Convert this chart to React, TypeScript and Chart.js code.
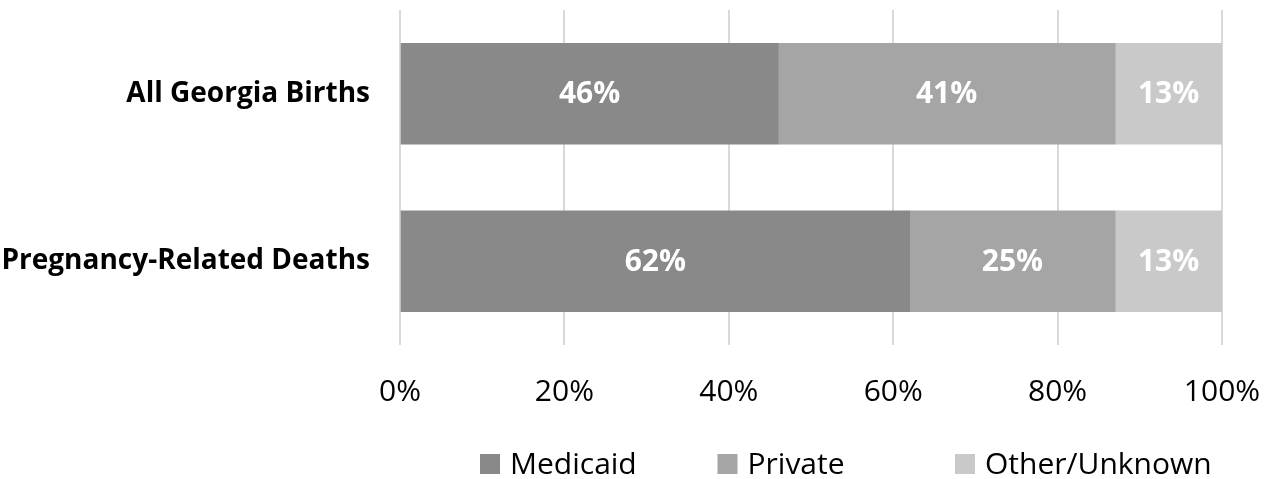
import React, { useEffect, useRef } from "react";
import { Chart, registerables } from "chart.js";

Chart.register(...registerables);

const categories = ["All Georgia Births", "Pregnancy-Related Deaths"];
const seriesNames = ["Medicaid", "Private", "Other/Unknown"];
const medicaid = [46, 62];
const privateIns = [41, 25];
const otherUnknown = [13, 13];
const seriesColors = ["#898989", "#a5a5a5", "#c9c9c9"];
const xTicks = [0, 20, 40, 60, 80, 100];

const FONT = "'Open Sans', 'Noto Sans', sans-serif";
const WIDTH = 1275;
const HEIGHT = 479;

// White percentage labels centred in each bar segment
const segmentLabels = {
  id: "segmentLabels",
  afterDatasetsDraw(chart: any) {
    const ctx = chart.ctx;
    ctx.save();
    ctx.fillStyle = "#ffffff";
    ctx.font = `bold 30px ${FONT}`;
    ctx.textAlign = "center";
    ctx.textBaseline = "middle";
    chart.data.datasets.forEach((ds: any, di: number) => {
      const meta = chart.getDatasetMeta(di);
      meta.data.forEach((el: any, i: number) => {
        const v = ds.data[i];
        const cx = (el.x + el.base) / 2;
        ctx.fillText(`${v}%`, cx, el.y + 1);
      });
    });
    ctx.restore();
  },
};

// Evenly spaced legend row beneath the axis
const spacedLegend = {
  id: "spacedLegend",
  afterDraw(chart: any) {
    const ctx = chart.ctx;
    const startX = 480;
    const step = 237.5;
    const cy = 464;
    const box = 20;
    ctx.save();
    ctx.font = `30px ${FONT}`;
    ctx.textBaseline = "middle";
    ctx.textAlign = "left";
    chart.data.datasets.forEach((ds: any, i: number) => {
      const x = startX + i * step;
      ctx.fillStyle = ds.backgroundColor;
      ctx.fillRect(x, cy - box / 2, box, box);
      ctx.fillStyle = "#000000";
      ctx.fillText(ds.label, x + box + 10, cy + 1);
    });
    ctx.restore();
  },
};

export default function App() {
  const canvasRef = useRef<HTMLCanvasElement | null>(null);

  useEffect(() => {
    document.body.style.margin = "0";
    if (!canvasRef.current) return;
    const values = [medicaid, privateIns, otherUnknown];
    const chart = new Chart(canvasRef.current, {
      type: "bar",
      data: {
        labels: categories,
        datasets: seriesNames.map((name, i) => ({
          label: name,
          data: values[i],
          backgroundColor: seriesColors[i],
          borderWidth: 0,
          barThickness: 101,
        })),
      },
      options: {
        indexAxis: "y",
        animation: false,
        responsive: false,
        maintainAspectRatio: false,
        layout: { padding: { top: 10, right: 53, left: 0, bottom: 0 } },
        plugins: {
          legend: { display: false },
          tooltip: { enabled: false },
        },
        scales: {
          x: {
            stacked: true,
            min: 0,
            max: 100,
            afterBuildTicks: (scale: any) => {
              scale.ticks = xTicks.map((v) => ({ value: v }));
            },
            afterFit: (scale: any) => {
              scale.height = 134;
              scale.paddingLeft = 0;
              scale.paddingRight = 0;
            },
            grid: {
              color: "#d9d9d9",
              lineWidth: 2,
              drawTicks: false,
            },
            border: { display: false },
            ticks: {
              padding: 29,
              color: "#000000",
              font: { family: FONT, size: 30 },
              callback: (v: any) => `${v}%`,
            },
          },
          y: {
            stacked: true,
            afterFit: (scale: any) => {
              scale.width = 400;
              scale.paddingTop = 0;
              scale.paddingBottom = 0;
            },
            grid: { display: false, drawTicks: false },
            border: { display: false },
            ticks: {
              padding: 30,
              color: "#000000",
              font: { family: FONT, size: 28, weight: "bold" },
            },
          },
        },
      },
      plugins: [segmentLabels, spacedLegend],
    });
    return () => chart.destroy();
  }, []);

  return (
    <div style={{ width: WIDTH, height: HEIGHT }}>
      <canvas
        ref={canvasRef}
        width={WIDTH}
        height={HEIGHT}
        style={{ display: "block" }}
      />
    </div>
  );
}
